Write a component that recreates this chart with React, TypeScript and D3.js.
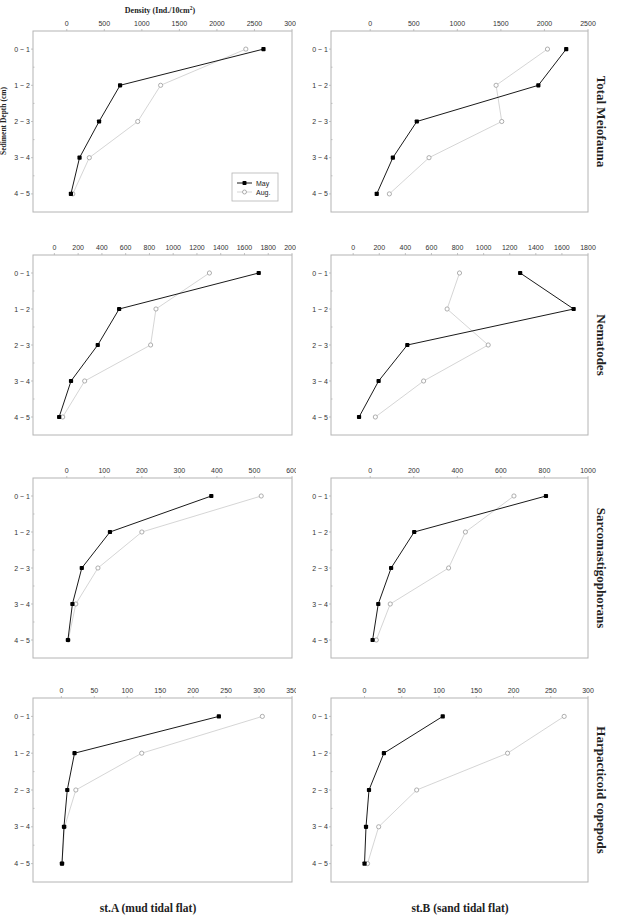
import React from 'react';
import * as d3 from 'd3';

// depth classes (cm)
const depths = ['0 ~ 1', '1 ~ 2', '2 ~ 3', '3 ~ 4', '4 ~ 5'];
const seriesNames = ['May', 'Aug.'];
const groupTitles = ['Total Meiofauna', 'Nematodes', 'Sarcomastigophorans', 'Harpacticoid copepods'];
const stationTitles = ['st.A (mud tidal flat)', 'st.B (sand tidal flat)'];

// densities (ind./10cm2)
const totalA_may = [2620, 710, 430, 170, 55];
const totalA_aug = [2385, 1250, 945, 300, 80];
const totalB_may = [2250, 1930, 535, 260, 75];
const totalB_aug = [2035, 1445, 1510, 675, 220];
const nemaA_may = [1720, 545, 365, 140, 40];
const nemaA_aug = [1305, 855, 810, 255, 70];
const nemaB_may = [1280, 1690, 415, 195, 45];
const nemaB_aug = [815, 720, 1035, 540, 170];
const sarcA_may = [385, 115, 40, 15, 3];
const sarcA_aug = [518, 200, 83, 24, 4];
const sarcB_may = [807, 202, 96, 37, 11];
const sarcB_aug = [660, 437, 360, 92, 28];
const harpA_may = [239, 20, 9, 4, 1];
const harpA_aug = [305, 122, 22, 5, 1];
const harpB_may = [105, 26, 6, 2, 0];
const harpB_aug = [268, 192, 70, 19, 4];

// axis ticks
const totalA_ticks = [0, 500, 1000, 1500, 2000, 2500, 3000];
const totalB_ticks = [0, 500, 1000, 1500, 2000, 2500];
const nemaA_ticks = [0, 200, 400, 600, 800, 1000, 1200, 1400, 1600, 1800, 2000];
const nemaB_ticks = [0, 200, 400, 600, 800, 1000, 1200, 1400, 1600, 1800];
const sarcA_ticks = [0, 100, 200, 300, 400, 500, 600];
const sarcB_ticks = [0, 200, 400, 600, 800, 1000];
const harpA_ticks = [0, 50, 100, 150, 200, 250, 300, 350];
const harpB_ticks = [0, 50, 100, 150, 200, 250, 300];

// layout
const colX = [[33, 292], [331, 588]];
const rowY = [[31, 212], [255, 435], [478, 658], [698, 882]];

const panels = [
  { row: 0, col: 0, domain: [-450, 3000], ticks: totalA_ticks, may: totalA_may, aug: totalA_aug },
  { row: 0, col: 1, domain: [-450, 2500], ticks: totalB_ticks, may: totalB_may, aug: totalB_aug },
  { row: 1, col: 0, domain: [-180, 2000], ticks: nemaA_ticks, may: nemaA_may, aug: nemaA_aug },
  { row: 1, col: 1, domain: [-170, 1800], ticks: nemaB_ticks, may: nemaB_may, aug: nemaB_aug },
  { row: 2, col: 0, domain: [-90, 600], ticks: sarcA_ticks, may: sarcA_may, aug: sarcA_aug },
  { row: 2, col: 1, domain: [-180, 1000], ticks: sarcB_ticks, may: sarcB_may, aug: sarcB_aug },
  { row: 3, col: 0, domain: [-43, 350], ticks: harpA_ticks, may: harpA_may, aug: harpA_aug },
  { row: 3, col: 1, domain: [-45, 300], ticks: harpB_ticks, may: harpB_may, aug: harpB_aug },
];

const sans = 'Arial, "Liberation Sans", sans-serif';
const serif = '"Times New Roman", "Liberation Serif", serif';
const frame = '#b4b4b4';
const augLine = '#cacaca';
const augMark = '#9a9a9a';

const Panel = ({ p }) => {
  const [x0, x1] = colX[p.col];
  const [y0, y1] = rowY[p.row];
  const x = d3.scaleLinear().domain(p.domain).range([x0, x1]);
  const y = d3.scaleLinear().domain([-0.5, depths.length - 0.5]).range([y0, y1]);
  const line = d3.line<number>().x(d => x(d)).y((d, i) => y(i));
  const half = d3.range(0.5, depths.length - 0.5, 1);

  return (
    <g>
      <rect x={x0} y={y0} width={x1 - x0} height={y1 - y0} fill="none" stroke={frame} strokeWidth={1} />
      <g clipPath={p.col === 0 ? 'url(#leftClip)' : undefined}>
        {p.ticks.map(t => (
          <g key={t}>
            <line x1={x(t)} x2={x(t)} y1={y0} y2={y0 - 2} stroke={frame} strokeWidth={0.8} />
            <text x={x(t)} y={y0 - 5.5} textAnchor="middle" fontSize={7} fontFamily={sans} fill="#333">{t}</text>
          </g>
        ))}
      </g>
      {depths.map((d, i) => (
        <g key={d}>
          <line x1={x0} x2={x0 - 2} y1={y(i)} y2={y(i)} stroke={frame} strokeWidth={0.8} />
          <text x={x0 - 3} y={y(i) + 2.5} textAnchor="end" fontSize={7} fontFamily={sans} fill="#333">{d}</text>
        </g>
      ))}
      {half.map(h => (
        <line key={h} x1={x0} x2={x0 + 1.5} y1={y(h)} y2={y(h)} stroke={frame} strokeWidth={0.8} />
      ))}
      <path d={line(p.aug)} fill="none" stroke={augLine} strokeWidth={0.8} />
      {p.aug.map((v, i) => (
        <circle key={i} cx={x(v)} cy={y(i)} r={2.1} fill="#fff" stroke={augMark} strokeWidth={0.8} />
      ))}
      <path d={line(p.may)} fill="none" stroke="#1a1a1a" strokeWidth={1} />
      {p.may.map((v, i) => (
        <rect key={i} x={x(v) - 2.1} y={y(i) - 2.1} width={4.2} height={4.2} rx={0.8} fill="#000" />
      ))}
    </g>
  );
};

const App = () => {
  return (
    <svg width={618} height={921} style={{ position: 'absolute', left: 0, top: 0, background: '#fff' }}>
      <defs>
        <clipPath id="leftClip">
          <rect x={0} y={0} width={296} height={921} />
        </clipPath>
      </defs>
      <rect x={0} y={0} width={618} height={921} fill="#fff" />

      {panels.map((p, i) => <Panel key={i} p={p} />)}

      {/* axis titles */}
      <text x={160} y={13} textAnchor="middle" fontSize={8} fontWeight="bold" fontFamily={serif} fill="#222">
        Density (Ind./10cm<tspan dy={-3} fontSize={5.5}>2</tspan><tspan dy={3}>)</tspan>
      </text>
      <text transform="translate(6,121) rotate(-90)" textAnchor="middle" fontSize={7.5} fontWeight="bold" fontFamily={serif} fill="#222">
        Sediment Depth (cm)
      </text>

      {/* legend */}
      <g>
        <rect x={232} y={173} width={46} height={28} fill="#fff" stroke={frame} strokeWidth={0.8} />
        <line x1={237} x2={252} y1={183} y2={183} stroke="#1a1a1a" strokeWidth={1} />
        <rect x={242.5} y={181} width={4} height={4} rx={0.8} fill="#000" />
        <text x={256} y={185.5} fontSize={7} fontFamily={sans} fill="#222">{seriesNames[0]}</text>
        <line x1={237} x2={252} y1={192} y2={192} stroke={augLine} strokeWidth={0.8} />
        <circle cx={244.5} cy={192} r={2} fill="#fff" stroke={augMark} strokeWidth={0.8} />
        <text x={256} y={194.5} fontSize={7} fontFamily={sans} fill="#222">{seriesNames[1]}</text>
      </g>

      {/* group titles on the right */}
      {groupTitles.map((t, i) => (
        <text key={t} transform={`translate(597,${(rowY[i][0] + rowY[i][1]) / 2}) rotate(90)`} textAnchor="middle"
          fontSize={13} fontWeight="bold" fontFamily={serif} fill="#222">{t}</text>
      ))}

      {/* station titles */}
      {stationTitles.map((t, i) => (
        <text key={t} x={i === 0 ? 148 : 460} y={912} textAnchor="middle" fontSize={11.5} fontWeight="bold" fontFamily={serif} fill="#222">{t}</text>
      ))}
    </svg>
  );
};

export default App;
